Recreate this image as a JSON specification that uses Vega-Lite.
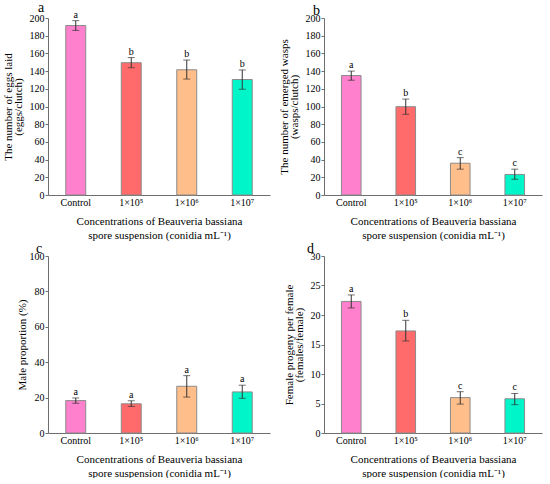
{
  "$schema": "https://vega.github.io/schema/vega-lite/v6.json",
  "padding": {"left": 2, "top": 0, "right": 2, "bottom": 0},
  "background": "white",
  "datasets": {
    "d": [
      {"panel": "a", "conc": "Control", "mean": 191.5, "lo": 186, "hi": 197, "letter": "a"},
      {"panel": "a", "conc": "1×10⁵", "mean": 149.5, "lo": 143.8, "hi": 155.3, "letter": "b"},
      {"panel": "a", "conc": "1×10⁶", "mean": 141.5, "lo": 131, "hi": 152.5, "letter": "b"},
      {"panel": "a", "conc": "1×10⁷", "mean": 130.5, "lo": 119.5, "hi": 141.3, "letter": "b"},
      {"panel": "b", "conc": "Control", "mean": 135, "lo": 129.7, "hi": 140, "letter": "a"},
      {"panel": "b", "conc": "1×10⁵", "mean": 99.8, "lo": 91.2, "hi": 108.4, "letter": "b"},
      {"panel": "b", "conc": "1×10⁶", "mean": 35.9, "lo": 29.2, "hi": 42.2, "letter": "c"},
      {"panel": "b", "conc": "1×10⁷", "mean": 23.2, "lo": 17.8, "hi": 29.2, "letter": "c"},
      {"panel": "c", "conc": "Control", "mean": 18.3, "lo": 16.8, "hi": 19.8, "letter": "a"},
      {"panel": "c", "conc": "1×10⁵", "mean": 16.5, "lo": 15.0, "hi": 18.2, "letter": "a"},
      {"panel": "c", "conc": "1×10⁶", "mean": 26.4, "lo": 20.3, "hi": 32.4, "letter": "a"},
      {"panel": "c", "conc": "1×10⁷", "mean": 23.2, "lo": 19.6, "hi": 27.0, "letter": "a"},
      {"panel": "d", "conc": "Control", "mean": 22.3, "lo": 21.2, "hi": 23.4, "letter": "a"},
      {"panel": "d", "conc": "1×10⁵", "mean": 17.3, "lo": 15.6, "hi": 19.1, "letter": "b"},
      {"panel": "d", "conc": "1×10⁶", "mean": 6.0, "lo": 4.9, "hi": 7.0, "letter": "c"},
      {"panel": "d", "conc": "1×10⁷", "mean": 5.8, "lo": 4.8, "hi": 6.7, "letter": "c"}
    ]
  },
  "data": {"name": "d"},
  "columns": 2,
  "spacing": {"row": 2, "column": 8},
  "concat": [
    {
      "title": {"text": "a", "dx": -10},
      "width": 222, "height": 177,
      "transform": [{"filter": "datum.panel === 'a'"}],
      "encoding": {"x": {"field": "conc", "type": "nominal", "sort": ["Control", "1×10⁵", "1×10⁶", "1×10⁷"], "scale": {"paddingInner": 0.64, "paddingOuter": 0.32}, "title": ["Concentrations of Beauveria bassiana", "spore suspension (conidia mL⁻¹)"]}},
      "layer": [
        {"mark": {"type": "bar", "stroke": "#8c8c8c", "strokeWidth": 1},
         "encoding": {"y": {"field": "mean", "type": "quantitative", "scale": {"domain": [0, 200]}, "axis": {"values": [0, 20, 40, 60, 80, 100, 120, 140, 160, 180, 200], "title": ["The number of eggs laid", "(eggs/clutch)"]}},
           "color": {"field": "conc", "type": "nominal", "sort": ["Control", "1×10⁵", "1×10⁶", "1×10⁷"], "scale": {"domain": ["Control", "1×10⁵", "1×10⁶", "1×10⁷"], "range": ["#ff80cc", "#ff6b6b", "#ffbe8a", "#00f5c8"]}, "legend": null}}},
        {"mark": {"type": "rule", "color": "#333333", "strokeWidth": 1}, "encoding": {"y": {"field": "lo", "type": "quantitative", "axis": {"values": [0, 20, 40, 60, 80, 100, 120, 140, 160, 180, 200], "title": ["The number of eggs laid", "(eggs/clutch)"]}}, "y2": {"field": "hi"}}},
        {"mark": {"type": "tick", "color": "#333333", "size": 7, "thickness": 1}, "encoding": {"y": {"field": "hi", "type": "quantitative", "axis": {"values": [0, 20, 40, 60, 80, 100, 120, 140, 160, 180, 200], "title": ["The number of eggs laid", "(eggs/clutch)"]}}}},
        {"mark": {"type": "tick", "color": "#333333", "size": 7, "thickness": 1}, "encoding": {"y": {"field": "lo", "type": "quantitative", "axis": {"values": [0, 20, 40, 60, 80, 100, 120, 140, 160, 180, 200], "title": ["The number of eggs laid", "(eggs/clutch)"]}}}},
        {"mark": {"type": "text", "baseline": "bottom", "dy": -1, "fontSize": 10}, "encoding": {"y": {"field": "hi", "type": "quantitative", "axis": {"values": [0, 20, 40, 60, 80, 100, 120, 140, 160, 180, 200], "title": ["The number of eggs laid", "(eggs/clutch)"]}}, "text": {"field": "letter"}}}
      ]
    },
    {
      "title": {"text": "b", "dx": -11},
      "width": 218, "height": 177,
      "transform": [{"filter": "datum.panel === 'b'"}],
      "encoding": {"x": {"field": "conc", "type": "nominal", "sort": ["Control", "1×10⁵", "1×10⁶", "1×10⁷"], "scale": {"paddingInner": 0.64, "paddingOuter": 0.32}, "title": ["Concentrations of Beauveria bassiana", "spore suspension (conidia mL⁻¹)"]}},
      "layer": [
        {"mark": {"type": "bar", "stroke": "#8c8c8c", "strokeWidth": 1},
         "encoding": {"y": {"field": "mean", "type": "quantitative", "scale": {"domain": [0, 200]}, "axis": {"values": [0, 20, 40, 60, 80, 100, 120, 140, 160, 180, 200], "title": ["The number of emerged wasps", "(wasps/clutch)"]}},
           "color": {"field": "conc", "type": "nominal", "sort": ["Control", "1×10⁵", "1×10⁶", "1×10⁷"], "scale": {"domain": ["Control", "1×10⁵", "1×10⁶", "1×10⁷"], "range": ["#ff80cc", "#ff6b6b", "#ffbe8a", "#00f5c8"]}, "legend": null}}},
        {"mark": {"type": "rule", "color": "#333333", "strokeWidth": 1}, "encoding": {"y": {"field": "lo", "type": "quantitative", "axis": {"values": [0, 20, 40, 60, 80, 100, 120, 140, 160, 180, 200], "title": ["The number of emerged wasps", "(wasps/clutch)"]}}, "y2": {"field": "hi"}}},
        {"mark": {"type": "tick", "color": "#333333", "size": 7, "thickness": 1}, "encoding": {"y": {"field": "hi", "type": "quantitative", "axis": {"values": [0, 20, 40, 60, 80, 100, 120, 140, 160, 180, 200], "title": ["The number of emerged wasps", "(wasps/clutch)"]}}}},
        {"mark": {"type": "tick", "color": "#333333", "size": 7, "thickness": 1}, "encoding": {"y": {"field": "lo", "type": "quantitative", "axis": {"values": [0, 20, 40, 60, 80, 100, 120, 140, 160, 180, 200], "title": ["The number of emerged wasps", "(wasps/clutch)"]}}}},
        {"mark": {"type": "text", "baseline": "bottom", "dy": -1, "fontSize": 10}, "encoding": {"y": {"field": "hi", "type": "quantitative", "axis": {"values": [0, 20, 40, 60, 80, 100, 120, 140, 160, 180, 200], "title": ["The number of emerged wasps", "(wasps/clutch)"]}}, "text": {"field": "letter"}}}
      ]
    },
    {
      "title": {"text": "c", "dx": -12},
      "width": 222, "height": 177,
      "transform": [{"filter": "datum.panel === 'c'"}],
      "encoding": {"x": {"field": "conc", "type": "nominal", "sort": ["Control", "1×10⁵", "1×10⁶", "1×10⁷"], "scale": {"paddingInner": 0.64, "paddingOuter": 0.32}, "title": ["Concentrations of Beauveria bassiana", "spore suspension (conidia mL⁻¹)"]}},
      "layer": [
        {"mark": {"type": "bar", "stroke": "#8c8c8c", "strokeWidth": 1},
         "encoding": {"y": {"field": "mean", "type": "quantitative", "scale": {"domain": [0, 100]}, "axis": {"values": [0, 20, 40, 60, 80, 100], "title": "Male proportion (%)", "titlePadding": 2}},
           "color": {"field": "conc", "type": "nominal", "sort": ["Control", "1×10⁵", "1×10⁶", "1×10⁷"], "scale": {"domain": ["Control", "1×10⁵", "1×10⁶", "1×10⁷"], "range": ["#ff80cc", "#ff6b6b", "#ffbe8a", "#00f5c8"]}, "legend": null}}},
        {"mark": {"type": "rule", "color": "#333333", "strokeWidth": 1}, "encoding": {"y": {"field": "lo", "type": "quantitative", "axis": {"values": [0, 20, 40, 60, 80, 100], "title": "Male proportion (%)", "titlePadding": 2}}, "y2": {"field": "hi"}}},
        {"mark": {"type": "tick", "color": "#333333", "size": 7, "thickness": 1}, "encoding": {"y": {"field": "hi", "type": "quantitative", "axis": {"values": [0, 20, 40, 60, 80, 100], "title": "Male proportion (%)", "titlePadding": 2}}}},
        {"mark": {"type": "tick", "color": "#333333", "size": 7, "thickness": 1}, "encoding": {"y": {"field": "lo", "type": "quantitative", "axis": {"values": [0, 20, 40, 60, 80, 100], "title": "Male proportion (%)", "titlePadding": 2}}}},
        {"mark": {"type": "text", "baseline": "bottom", "dy": -1, "fontSize": 10}, "encoding": {"y": {"field": "hi", "type": "quantitative", "axis": {"values": [0, 20, 40, 60, 80, 100], "title": "Male proportion (%)", "titlePadding": 2}}, "text": {"field": "letter"}}}
      ]
    },
    {
      "title": {"text": "d", "dx": -17},
      "width": 218, "height": 177,
      "transform": [{"filter": "datum.panel === 'd'"}],
      "encoding": {"x": {"field": "conc", "type": "nominal", "sort": ["Control", "1×10⁵", "1×10⁶", "1×10⁷"], "scale": {"paddingInner": 0.64, "paddingOuter": 0.32}, "title": ["Concentrations of Beauveria bassiana", "spore suspension (conidia mL⁻¹)"]}},
      "layer": [
        {"mark": {"type": "bar", "stroke": "#8c8c8c", "strokeWidth": 1},
         "encoding": {"y": {"field": "mean", "type": "quantitative", "scale": {"domain": [0, 30]}, "axis": {"values": [0, 5, 10, 15, 20, 25, 30], "title": ["Female progeny per female", "(females/female)"]}},
           "color": {"field": "conc", "type": "nominal", "sort": ["Control", "1×10⁵", "1×10⁶", "1×10⁷"], "scale": {"domain": ["Control", "1×10⁵", "1×10⁶", "1×10⁷"], "range": ["#ff80cc", "#ff6b6b", "#ffbe8a", "#00f5c8"]}, "legend": null}}},
        {"mark": {"type": "rule", "color": "#333333", "strokeWidth": 1}, "encoding": {"y": {"field": "lo", "type": "quantitative", "axis": {"values": [0, 5, 10, 15, 20, 25, 30], "title": ["Female progeny per female", "(females/female)"]}}, "y2": {"field": "hi"}}},
        {"mark": {"type": "tick", "color": "#333333", "size": 7, "thickness": 1}, "encoding": {"y": {"field": "hi", "type": "quantitative", "axis": {"values": [0, 5, 10, 15, 20, 25, 30], "title": ["Female progeny per female", "(females/female)"]}}}},
        {"mark": {"type": "tick", "color": "#333333", "size": 7, "thickness": 1}, "encoding": {"y": {"field": "lo", "type": "quantitative", "axis": {"values": [0, 5, 10, 15, 20, 25, 30], "title": ["Female progeny per female", "(females/female)"]}}}},
        {"mark": {"type": "text", "baseline": "bottom", "dy": -1, "fontSize": 10}, "encoding": {"y": {"field": "hi", "type": "quantitative", "axis": {"values": [0, 5, 10, 15, 20, 25, 30], "title": ["Female progeny per female", "(females/female)"]}}, "text": {"field": "letter"}}}
      ]
    }
  ],
  "config": {
    "view": {"stroke": null},
    "font": "Liberation Serif",
    "text": {"font": "Liberation Serif"},
    "title": {"font": "Liberation Serif", "fontSize": 14, "fontWeight": "normal", "anchor": "start", "frame": "group", "offset": -5, "color": "#000000"},
    "axis": {"labelFont": "Liberation Serif", "titleFont": "Liberation Serif", "labelFontSize": 10, "titleFontSize": 11, "titleFontWeight": "normal", "labelColor": "#000000", "titleColor": "#000000", "domainColor": "#6e6e6e", "tickColor": "#6e6e6e", "grid": false},
    "axisY": {"tickSize": 3, "labelPadding": 1, "titlePadding": 6, "titleLineHeight": 10},
    "axisX": {"labelAngle": 0, "tickSize": -3, "labelPadding": 5, "titlePadding": 8, "titleLineHeight": 14}
  }
}
